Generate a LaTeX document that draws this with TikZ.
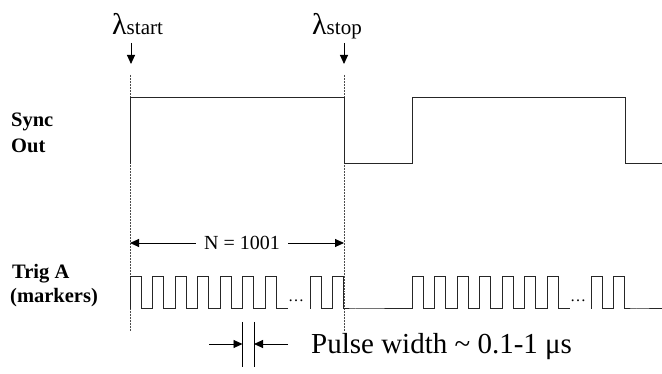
\documentclass[tikz,border=0pt]{standalone}
\usepackage{fontspec}
\setmainfont{Liberation Serif}
\usetikzlibrary{arrows.meta}

\tikzset{
  wave/.style={line width=1pt, black!85},
  marker/.style={densely dotted, line width=0.5pt, black!70},
  tip/.style={-{Triangle[length=9pt, width=8pt]}, line width=0.9pt},
  lbl/.style={anchor=base west, font=\fontsize{20.5}{20.5}\selectfont\bfseries},
}

\begin{document}
\begin{tikzpicture}[x=1pt, y=-1pt, inner sep=0pt]
   \useasboundingbox (0,0) rectangle (662,374);
   % wavelength markers
   \node[anchor=base west] (Lstart) at (112,35) {{\fontsize{30}{30}\selectfont λ}{\fontsize{21}{21}\selectfont start}};
   \node[anchor=base west] (Lstop) at (312,35) {{\fontsize{30}{30}\selectfont λ}{\fontsize{21}{21}\selectfont stop}};
   \coordinate (S1) at (131,43);
   \coordinate (S2) at (131,64);
   \coordinate (T1) at (344,43);
   \coordinate (T2) at (344,64);
   \draw[tip] (S1) -- (S2);
   \draw[tip] (T1) -- (T2);
   \draw[marker] (130,75) -- (130,331);
   \draw[marker] (344,75) -- (344,331);
   % labels
   \node[lbl] (sync) at (11,127) {Sync};
   \node[lbl] (out) at (11,153) {Out};
   \node[lbl] (trig) at (12,279) {Trig A};
   \node[lbl] (mark) at (10,303) {(markers)};
   % sync out
   \draw[wave] (130,164) -- (130,98) -- (344,98) -- (344,164) -- (412,164)
      -- (412,98) -- (625,98) -- (625,164) -- (662,164);
   % trig A
   \draw[wave] (130,309) \foreach \k in {1,...,7}{ -- ++(0,-32) -- ++(11,0) -- ++(0,32) -- ++(11.5,0)}
      (310,309) \foreach \k in {1,2}{ -- ++(0,-32) -- ++(11,0) -- ++(0,32) -- ++(11.5,0)}
      -- (412,309) \foreach \k in {1,...,7}{ -- ++(0,-32) -- ++(11,0) -- ++(0,32) -- ++(11.5,0)}
      (591,309) \foreach \k in {1,2}{ -- ++(0,-32) -- ++(11,0) -- ++(0,32) -- ++(11.5,0)}
      -- (662,309);
   \node (dotsL) at (296,301) {\fontsize{16}{16}\selectfont\ldots};
   \node (dotsR) at (578,301) {\fontsize{16}{16}\selectfont\ldots};
   % N
   \coordinate (Nl) at (130,243);
   \coordinate (Nr) at (344,243);
   \node[inner xsep=8pt] (N) at (242,243) {\fontsize{20}{20}\selectfont N = 1001};
   \draw[tip] (N) -- (Nl);
   \draw[tip] (N) -- (Nr);
   % pulse width
   \coordinate (P1) at (242.5,322);
   \coordinate (P2) at (242.5,367);
   \coordinate (Q1) at (254,322);
   \coordinate (Q2) at (254,367);
   \coordinate (Pa) at (209,344);
   \coordinate (Qa) at (288,344);
   \draw[line width=0.7pt] (P1) -- (P2);
   \draw[line width=0.7pt] (Q1) -- (Q2);
   \draw[tip] (Pa) -- (P1 |- Pa);
   \draw[tip] (Qa) -- (Q1 |- Qa);
   \node[anchor=base west] (PW) at (311,354) {\fontsize{29}{29}\selectfont Pulse width \char"007E{} 0.1-1 μs};
\end{tikzpicture}
\end{document}
